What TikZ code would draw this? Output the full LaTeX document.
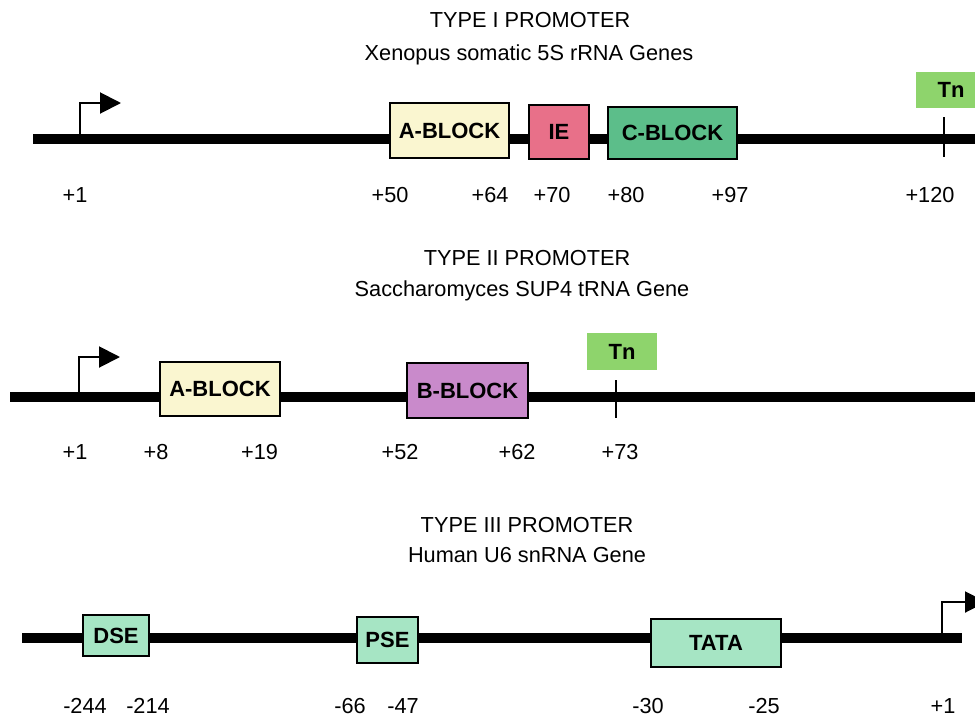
\documentclass[tikz,border=0pt]{standalone}
\usepackage{fontspec}
\setmainfont{Liberation Sans}
\usepackage{tikz}
\usetikzlibrary{arrows.meta}

\definecolor{ablockyellow}{HTML}{FAF6D0}
\definecolor{iepink}{HTML}{E87089}
\definecolor{cblockgreen}{HTML}{5CBE8A}
\definecolor{bblockpurple}{HTML}{C98ACB}
\definecolor{tngreen}{HTML}{8ED46C}
\definecolor{elemmint}{HTML}{A6E5C4}

\begin{document}
\begin{tikzpicture}[x=0.75pt, y=-0.75pt,
        every node/.style={font=\fontsize{16.3}{19}\selectfont},
        dna/.style={line width=7.5pt},
        block/.style={draw, line width=1.1pt, inner sep=0pt, font=\fontsize{16.5}{19}\selectfont\bfseries},
        term/.style={fill=tngreen, inner sep=0pt, minimum width=52.5pt, minimum height=27pt, font=\fontsize{16.5}{19}\selectfont\bfseries},
        prom/.style={line width=1.5pt, -{Triangle[length=15.75pt, width=15.75pt]}},
        tick/.style={line width=1.2pt}]
        \useasboundingbox (0,0) rectangle (975,722);
        \clip (0,0) rectangle (975,722);

        % Type I.
        \node (titleI) at (530,20) {TYPE I PROMOTER};
        \node (geneI) at (529,55) {Xenopus somatic 5S rRNA Genes};
        \coordinate (startI) at (33,139);
        \coordinate (endI) at (980,139);
        \coordinate (tssI) at (80,139);
        \coordinate (tnI) at (944,137);
        \draw[dna] (startI) -- (endI);
        \draw[prom] (tssI) |- ++(41,-36);
        \node[block, fill=ablockyellow, minimum width=89.3pt, minimum height=41.3pt] (ablockI) at (449.5,130.5) {A-BLOCK};
        \node[block, fill=iepink, minimum width=45pt, minimum height=40.5pt] (ie) at (559,132) {IE};
        \node[block, fill=cblockgreen, minimum width=96.8pt, minimum height=39pt] (cblock) at (672.5,133) {C-BLOCK};
        \node[term] (tnboxI) at (951,90) {Tn};
        \draw[tick] (tnI) ++(0,-20) -- ++(0,40);

        \node (p1I) at (75,195) {+1};
        \node (p50) at (390,195) {+50};
        \node (p64) at (490,195) {+64};
        \node (p70) at (552,195) {+70};
        \node (p80) at (626,195) {+80};
        \node (p97) at (730,195) {+97};
        \node (p120) at (930,195) {+120};

        % Type II.
        \node (titleII) at (527,258) {TYPE II PROMOTER};
        \node (geneII) at (522,291) {Saccharomyces SUP4 tRNA Gene};
        \coordinate (startII) at (10,397);
        \coordinate (endII) at (980,397);
        \coordinate (tssII) at (79,397);
        \coordinate (tnII) at (616,399);
        \draw[dna] (startII) -- (endII);
        \draw[prom] (tssII) |- ++(41,-40);
        \node[block, fill=ablockyellow, minimum width=90pt, minimum height=40.5pt] (ablockII) at (220,389) {A-BLOCK};
        \node[block, fill=bblockpurple, minimum width=90.8pt, minimum height=41.3pt] (bblock) at (467.5,390.5) {B-BLOCK};
        \node[term, minimum height=27.8pt] (tnboxII) at (622,351.5) {Tn};
        \draw[tick] (tnII) ++(0,-19) -- ++(0,38);

        \node (p1II) at (75,452) {+1};
        \node (p8) at (156,452) {+8};
        \node (p19) at (259.5,452) {+19};
        \node (p52) at (400,452) {+52};
        \node (p62) at (517,452) {+62};
        \node (p73) at (620,452) {+73};

        % Type III.
        \node (titleIII) at (527,525) {TYPE III PROMOTER};
        \node (geneIII) at (527,555) {Human U6 snRNA Gene};
        \coordinate (startIII) at (22,638);
        \coordinate (endIII) at (962,638);
        \coordinate (tssIII) at (942,638);
        \draw[dna] (startIII) -- (endIII);
        \draw[prom] (tssIII) |- ++(44,-36);
        \node[block, fill=elemmint, minimum width=49.5pt, minimum height=30.8pt] (dse) at (116,635.5) {DSE};
        \node[block, fill=elemmint, minimum width=45.8pt, minimum height=34.5pt] (pse) at (387.5,640) {PSE};
        \node[block, fill=elemmint, minimum width=97.5pt, minimum height=36pt] (tata) at (716,643) {TATA};

        \node (m244) at (85,706) {-244};
        \node (m214) at (148,706) {-214};
        \node (m66) at (350,706) {-66};
        \node (m47) at (403,706) {-47};
        \node (m30) at (648,706) {-30};
        \node (m25) at (764,706) {-25};
        \node (p1III) at (943,706) {+1};

\end{tikzpicture}
\end{document}
